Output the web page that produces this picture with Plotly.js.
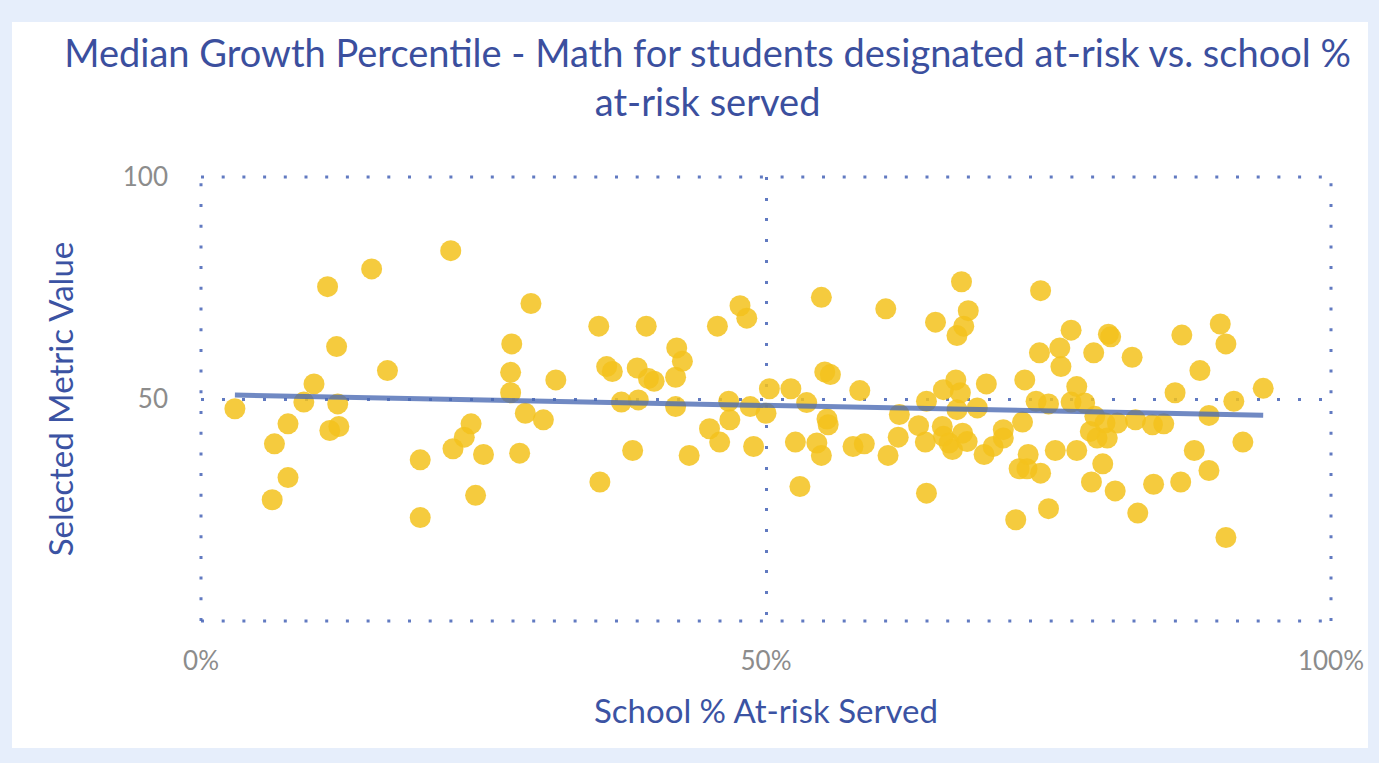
<!DOCTYPE html>
<html><head><meta charset="utf-8">
<script src="https://cdn.plot.ly/plotly-3.0.1.min.js"></script>
<style>
html,body{margin:0;padding:0;background:#e6eefb;width:1379px;height:763px;overflow:hidden}
#chart{position:absolute;left:12px;top:22px;width:1356px;height:726px;background:#fff}
</style></head><body><div id="chart"></div>
<script>
// School % at-risk served (percent)
const schoolPctAtRisk = [
 3.0,6.3,6.5,7.7,7.7,9.1,10.0,11.2,11.4,12.0,12.1,12.2,15.1,16.5,19.4,19.4,22.1,22.3,23.3,23.9,
 24.3,25.0,27.4,27.4,27.5,28.2,28.7,29.2,30.3,31.4,35.2,35.3,35.9,36.4,37.2,38.2,38.6,38.7,39.4,39.6,
 40.1,42.0,42.0,42.1,42.6,43.2,45.0,45.7,45.9,46.7,46.8,47.7,48.3,48.6,48.9,50.0,50.3,52.2,52.6,53.0,
 53.6,54.5,54.9,54.9,55.2,55.4,55.5,55.7,57.7,58.3,58.7,60.6,60.8,61.7,61.8,63.5,64.1,64.2,64.2,65.0,
 65.6,65.7,65.7,66.2,66.5,66.8,66.9,66.9,67.2,67.3,67.4,67.5,67.8,67.9,68.7,69.3,69.5,70.1,71.0,71.0,
 72.1,72.4,72.7,72.9,73.1,73.2,73.9,74.2,74.3,74.3,75.0,75.0,75.6,76.0,76.1,77.0,77.0,77.5,77.5,78.2,
 78.7,78.8,79.0,79.1,79.3,79.8,80.0,80.2,80.3,80.5,80.9,81.1,82.4,82.7,82.9,84.2,84.3,85.2,86.2,86.7,
 86.8,87.9,88.4,89.2,89.2,90.2,90.7,90.7,91.4,92.2,94.0
];
// Median growth percentile - math, at-risk students
const medianGrowthMath = [
 47.8,27.3,39.9,44.4,32.3,49.3,53.4,75.3,42.9,61.8,48.9,43.8,79.3,56.4,36.3,23.3,83.4,38.8,41.4,44.4,
 28.3,37.5,51.4,56.0,62.4,37.8,46.8,71.5,45.3,54.3,66.4,31.3,57.3,56.2,49.3,38.4,57.0,49.8,66.4,54.6,
 54.0,54.9,48.3,61.5,58.5,37.3,43.3,66.4,40.3,49.5,45.3,71.0,68.2,48.3,39.3,46.8,52.3,52.3,40.3,30.3,
 49.2,40.1,37.3,72.9,56.1,45.5,44.2,55.5,39.3,51.9,39.9,70.3,37.3,41.4,46.5,44.0,40.3,28.8,49.5,67.3,
 43.8,52.1,41.6,40.1,38.6,54.3,47.6,64.3,51.4,76.4,42.3,66.4,40.4,69.9,48.0,37.5,53.4,39.3,43.1,41.2,
 22.8,34.3,44.8,54.3,34.3,37.5,49.5,60.4,74.4,33.3,48.9,25.3,38.4,61.5,57.3,65.5,49.3,52.8,38.4,49.1,
 42.7,31.3,60.4,46.1,41.2,35.4,44.6,41.2,64.6,64.0,29.3,44.6,59.4,45.3,24.3,44.2,30.8,44.4,51.4,31.3,
 64.4,38.4,56.4,46.3,33.9,66.9,62.4,18.8,49.5,40.3,52.4
];
const xTickVals = [0, 50, 100];
const xTickText = ['0%', '50%', '100%'];
const yTickVals = [0, 50, 100];
const yTickText = ['', '50', '100'];

// least-squares linear trendline from the data
const n = schoolPctAtRisk.length;
const mx = schoolPctAtRisk.reduce((a,b)=>a+b,0)/n;
const my = medianGrowthMath.reduce((a,b)=>a+b,0)/n;
let sxy=0, sxx=0;
for (let i=0;i<n;i++){ sxy += (schoolPctAtRisk[i]-mx)*(medianGrowthMath[i]-my); sxx += (schoolPctAtRisk[i]-mx)**2; }
const slope = sxy/sxx, intercept = my - slope*mx;
const xmin = Math.min(...schoolPctAtRisk), xmax = Math.max(...schoolPctAtRisk);
const trendX = [xmin, xmax];
const trendY = trendX.map(v => intercept + slope*v);

const gridColor = 'rgba(80,108,186,0.9)';
const gridDash = '3px,17.7px';
// dotted border gridlines at the axis ends (Plotly drops gridlines on the plot edges)
const edgeLine = (x0,y0,x1,y1) => ({type:'line', xref:'paper', yref:'paper', x0, y0, x1, y1,
  line:{color:gridColor, width:3, dash:gridDash}, layer:'below'});
const shapes = [edgeLine(0,0,1,0), edgeLine(0,1,1,1), edgeLine(0,0,0,1), edgeLine(1,0,1,1)];

const data = [
  {type:'scatter', mode:'markers', x:schoolPctAtRisk, y:medianGrowthMath,
   marker:{size:21, color:'rgba(243,194,28,0.85)', line:{width:0}}, hoverinfo:'x+y'},
  {type:'scatter', mode:'lines', x:trendX, y:trendY,
   line:{color:'rgba(72,104,178,0.78)', width:5}, hoverinfo:'skip'}
];
const layout = {
  width:1356, height:726,
  paper_bgcolor:'#ffffff', plot_bgcolor:'#ffffff',
  showlegend:false,
  margin:{l:189, r:37, t:155, b:127},
  font:{family:'Lato, sans-serif'},
  title:{text:'Median Growth Percentile - Math for students designated at-risk vs. school %<br>at-risk served',
    font:{size:38, color:'#3b4f9e', family:'Lato, sans-serif'},
    x:0.513, xanchor:'center', xref:'container', y:0.938, yref:'container', yanchor:'top'},
  shapes: shapes,
  xaxis:{range:[0,100], tickvals:xTickVals, ticktext:xTickText,
    showgrid:true, gridcolor:gridColor, gridwidth:3, griddash:gridDash,
    zeroline:false, showline:false, ticks:'', ticklabelstandoff:22,
    tickfont:{size:26, color:'#8c8c8c', family:'Lato, sans-serif'},
    title:{text:'School % At-risk Served', standoff:24, font:{size:33, color:'#3b53a3', family:'Lato, sans-serif'}}},
  yaxis:{range:[0,100], tickvals:yTickVals, ticktext:yTickText,
    showgrid:true, gridcolor:gridColor, gridwidth:3, griddash:gridDash,
    zeroline:false, showline:false, ticks:'', ticklabelstandoff:32,
    tickfont:{size:26, color:'#8c8c8c', family:'Lato, sans-serif'},
    title:{text:'Selected Metric Value', standoff:39, font:{size:33, color:'#3b53a3', family:'Lato, sans-serif'}}}
};
Plotly.newPlot('chart', data, layout, {displayModeBar:false, staticPlot:true});
</script>
</body></html>
